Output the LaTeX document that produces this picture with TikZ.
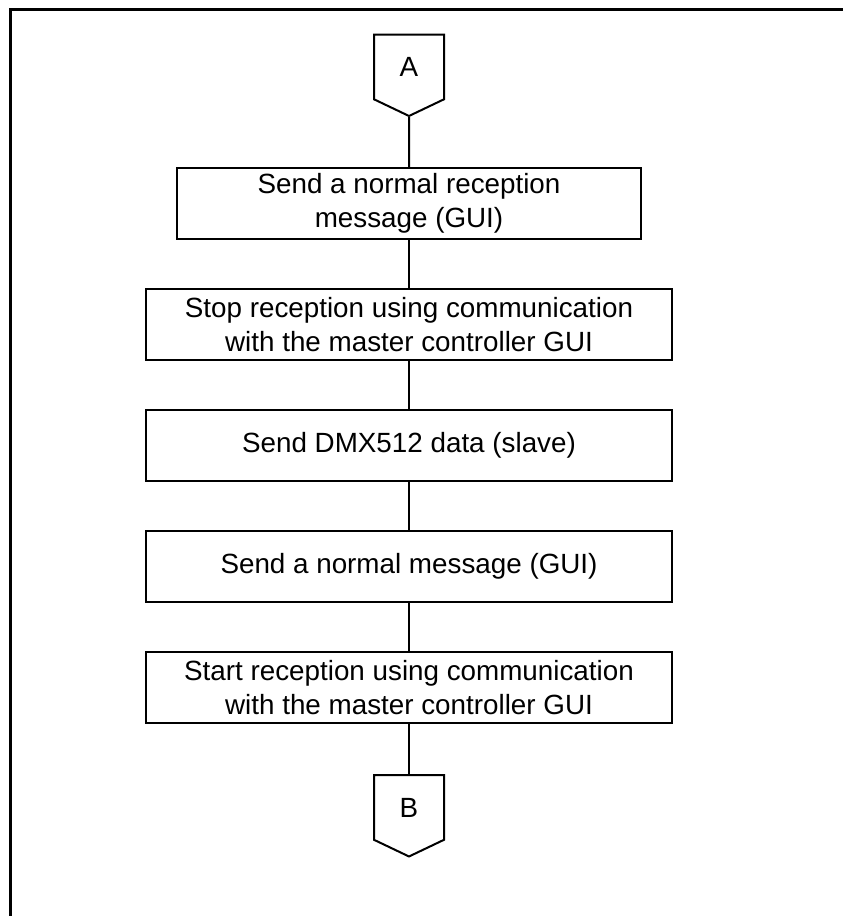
\documentclass[tikz,border=0pt]{standalone}
\usepackage{fontspec}
\setmainfont{Liberation Sans}
\usetikzlibrary{shapes.symbols}
\tikzset{
    block/.style = {draw, rectangle, line width=2pt,
        minimum height=71pt,
        minimum width=526pt, align=center, inner sep=0pt},
    narrowblock/.style = {block, minimum width=464pt},
    offpage/.style = {draw, signal, signal to=south, signal from=nowhere,
        line width=2pt, minimum width=70pt, minimum height=69pt,
        signal pointer angle=129, inner sep=0pt},
    wire/.style = {draw, line width=2pt}
}
\begin{document}
\begin{tikzpicture}[x=1pt, y=1pt, node distance=121pt, font=\fontsize{27.8}{34.5}\selectfont]
        \useasboundingbox (0,0) rectangle (843,-916);
        \draw [line width=3pt] (843,-9.5) -- (10,-9.5) -- (10,-916);
        \node [offpage] at (409,-67) (conA) {A};
        \node [narrowblock, below of=conA, node distance=136.5pt] (rxmsg) {Send a normal reception\\message (GUI)};
        \node [block, below of=rxmsg] (stoprx) {Stop reception using communication\\with the master controller GUI};
        \node [block, below of=stoprx] (dmx) {Send DMX512 data (slave)};
        \node [block, below of=dmx] (msg) {Send a normal message (GUI)};
        \node [block, below of=msg] (startrx) {Start reception using communication\\with the master controller GUI};
        \node [offpage, below of=startrx, node distance=120pt] (conB) {B};
        \draw [wire] (conA) -- (rxmsg);
        \draw [wire] (rxmsg) -- (stoprx);
        \draw [wire] (stoprx) -- (dmx);
        \draw [wire] (dmx) -- (msg);
        \draw [wire] (msg) -- (startrx);
        \draw [wire] (startrx) -- (conB);
    \end{tikzpicture}
\end{document}
